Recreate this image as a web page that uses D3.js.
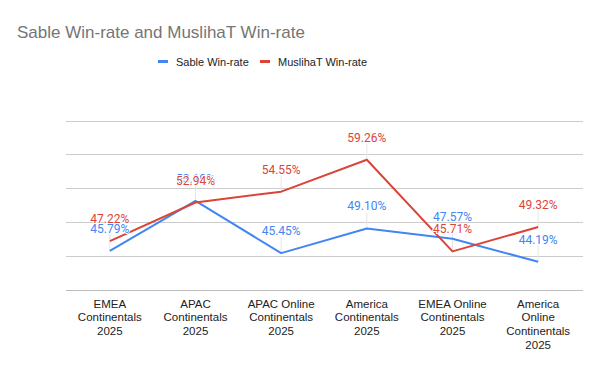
<!DOCTYPE html>
<html lang="en">
<head>
    <title>Sable Win-rate and MuslihaT Win-rate</title>
    <script src="https://d3js.org/d3.v7.min.js"></script>
    <style>
        body { margin: 0; background: #fff; }
        svg { font-family: "Liberation Sans", Arial, sans-serif; }
    </style>
</head>
<body>
  <svg width=600 height=371></svg>
    <script>
        const categories = ["EMEA Continentals 2025", "APAC Continentals 2025", "APAC Online Continentals 2025",
                            "America Continentals 2025", "EMEA Online Continentals 2025", "America Online Continentals 2025"];
        const sable = [45.79, 53.19, 45.45, 49.10, 47.57, 44.19];
        const muslihat = [47.22, 52.94, 54.55, 59.26, 45.71, 49.32];
        const yTicks = [40, 45, 50, 55, 60, 65];

        const series = [
            { name: "Sable Win-rate", values: sable, color: "#4285f4" },
            { name: "MuslihaT Win-rate", values: muslihat, color: "#db4437" }
        ];

        const svg = d3.select("svg");

        const x = d3.scaleBand().domain(categories).range([67, 581]);
        const y = d3.scaleLinear().domain([40, 65]).range([290, 121]);
        const cx = d => x(d) + x.bandwidth() / 2;

        // title
        svg.append("text")
           .attr("x", 17).attr("y", 38)
           .attr("font-size", 17).attr("fill", "#757575")
           .text("Sable Win-rate and MuslihaT Win-rate");

        // legend
        const legendX = [158, 260];
        series.forEach((s, i) => {
            svg.append("rect")
               .attr("x", legendX[i]).attr("y", 60)
               .attr("width", 10).attr("height", 3)
               .attr("fill", s.color);
            svg.append("text")
               .attr("x", legendX[i] + 18).attr("y", 65.5)
               .attr("font-size", 11).attr("fill", "#222")
               .text(s.name);
        });

        // gridlines
        svg.append("g").selectAll("line")
           .data(yTicks)
           .enter()
           .append("line")
           .attr("x1", 66).attr("x2", 583)
           .attr("y1", d => y(d)).attr("y2", d => y(d))
           .attr("stroke", d => d === 40 ? "#bdbdbd" : "#cccccc")
           .attr("stroke-width", 1)
           .attr("shape-rendering", "crispEdges");

        // x labels, wrapped
        const xl = svg.append("g").selectAll("text")
           .data(categories)
           .enter()
           .append("text")
           .attr("text-anchor", "middle")
           .attr("font-size", 11.5).attr("fill", "#222")
           .attr("y", 307.5);
        xl.each(function(d) {
            const t = d3.select(this);
            const words = d.split(" ");
            let lines = [], cur = [];
            const probe = t.append("tspan");
            words.forEach(w => {
                const trial = cur.concat(w).join(" ");
                probe.text(trial);
                if (cur.length && probe.node().getComputedTextLength() > 76) {
                    lines.push(cur.join(" "));
                    cur = [w];
                } else {
                    cur.push(w);
                }
            });
            lines.push(cur.join(" "));
            probe.remove();
            lines.forEach((ln, i) => {
                t.append("tspan")
                 .attr("x", cx(d))
                 .attr("dy", i === 0 ? 0 : 13.7)
                 .text(ln);
            });
        });

        // leader lines
        series.forEach(s => {
            svg.append("g").selectAll("line")
               .data(categories)
               .enter()
               .append("line")
               .attr("x1", d => cx(d)).attr("x2", d => cx(d))
               .attr("y1", (d, i) => y(s.values[i]))
               .attr("y2", (d, i) => y(s.values[i]) - 16)
               .attr("stroke", "#e6e6e6")
               .attr("stroke-width", 1);
        });

        // lines
        const line = d3.line()
            .x((v, i) => cx(categories[i]))
            .y(v => y(v));
        series.forEach(s => {
            svg.append("path")
               .datum(s.values)
               .attr("d", line)
               .attr("fill", "none")
               .attr("stroke", s.color)
               .attr("stroke-width", 2)
               .attr("stroke-linejoin", "round");
        });

        // value labels (white halo so later labels cover earlier ones)
        series.forEach(s => {
            svg.append("g").selectAll("text")
               .data(s.values)
               .enter()
               .append("text")
               .attr("x", (v, i) => cx(categories[i]))
               .attr("y", v => y(v) - 18)
               .attr("text-anchor", "middle")
               .attr("font-family", "Roboto, sans-serif")
               .attr("font-size", 12)
               .attr("fill", s.color)
               .attr("stroke", "#fff")
               .attr("stroke-width", 2)
               .attr("paint-order", "stroke")
               .text(v => v.toFixed(2) + "%");
        });
    </script>
</body>
</html>
